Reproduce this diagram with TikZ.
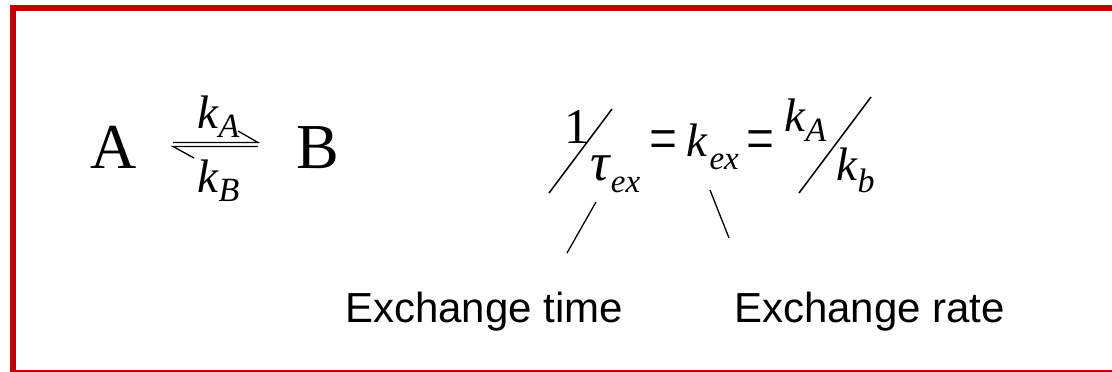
\documentclass[tikz,border=0pt]{standalone}
\usepackage{fontspec}
\setmainfont{Liberation Serif}
\newfontfamily\labelfont{Liberation Sans}
\definecolor{framered}{RGB}{192,0,0}
\newcommand{\fs}[1]{\fontsize{#1}{#1}\selectfont}
\newcommand{\eqsign}{\scalebox{1.1}[1.5]{\fs{45}=}}
\tikzset{
  glyph/.style={inner sep=0pt, outer sep=0pt, anchor=base west},
  harp/.style={line width=1.3pt, line join=miter},
  slash/.style={line width=1.5pt},
  leader/.style={line width=1.3pt},
  caption/.style={inner sep=0pt, anchor=base west, font=\labelfont\fs{42}}
}
\begin{document}
\begin{tikzpicture}[x=1pt,y=-1pt]
            \useasboundingbox (0,0) rectangle (1112,372);
            \fill[framered] (10,5) rectangle (16,372);
            \fill[framered] (10,5) rectangle (1112,11);
            \draw[framered, line width=1.5pt] (10,371) -- (1112,371);

            \node (A) at (90,168) [glyph] {\fs{64}A};
            \node (B) at (296,168) [glyph] {\fs{64}B};
            \node (kA) at (197,128) [glyph] {\fs{47}\textit{k}\raisebox{-9.5pt}{\fs{34}\textit{A}}};
            \node (kB) at (197,192) [glyph] {\fs{47}\textit{k}\raisebox{-9.5pt}{\fs{34}\textit{B}}};

            \coordinate (fwdL) at (173,142.5);
            \coordinate (fwdR) at (258,142.5);
            \coordinate (fwdH) at (238,131);
            \coordinate (bwdR) at (258,146.5);
            \coordinate (bwdL) at (173,146.5);
            \coordinate (bwdH) at (194,158);
            \draw[harp] (fwdL) -- (fwdR) -- (fwdH);
            \draw[harp] (bwdR) -- (bwdL) -- (bwdH);

            \node (one) at (564,143) [glyph] {\fs{50}1};
            \node (tau) at (590,180) [glyph] {\fs{54}\textit{τ}\raisebox{-12pt}{\fs{33}\textit{ex}}};
            \node (eqa) at (649,161) [glyph] {\eqsign};
            \node (kex) at (686,156) [glyph] {\fs{47}\textit{k}\kern2pt\raisebox{-13pt}{\fs{33}\textit{ex}}};
            \node (eqb) at (746,161) [glyph] {\eqsign};
            \node (kA2) at (784,131) [glyph] {\fs{47}\textit{k}\raisebox{-10pt}{\fs{34}\textit{A}}};
            \node (kb) at (836,180) [glyph] {\fs{47}\textit{k}\raisebox{-12pt}{\fs{34}\textit{b}}};
            \draw[slash] (549,193) -- (612,109);
            \draw[slash] (799,193) -- (871,97);

            \node (time) at (345,322) [caption] {Exchange time};
            \node (rate) at (734,322) [caption] {Exchange rate};
            \coordinate (tauTip) at (596,202);
            \coordinate (timeTip) at (567,253);
            \coordinate (kexTip) at (710,190);
            \coordinate (rateTip) at (729,238);
            \draw[leader] (tauTip) -- (timeTip);
            \draw[leader] (kexTip) -- (rateTip);
\end{tikzpicture}
\end{document}
